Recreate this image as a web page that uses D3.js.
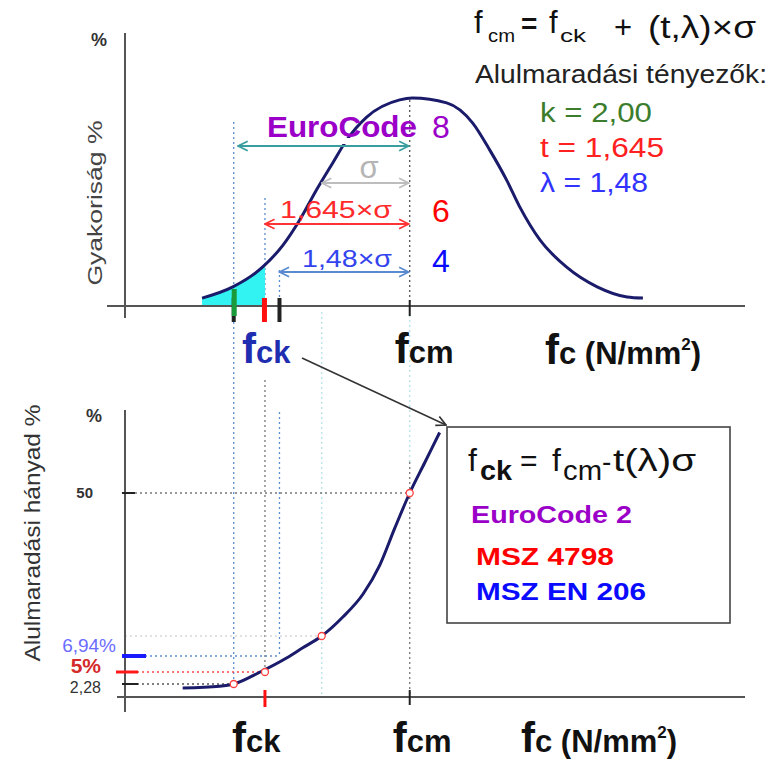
<!DOCTYPE html>
<html>
<head>
<meta charset="utf-8">
<script src="https://cdn.jsdelivr.net/npm/d3@7"></script>
<style>
  body { margin: 0; background: #fff; }
  text { font-family: "Liberation Sans", Arial, sans-serif; }
</style>
</head>
<body>
<svg id="chart" width="777" height="779"></svg>
<script>
// --- data (x in sigma units from fcm) ---
const freqU   = [-2.36, -2.01, -1.67, -1.44, -1.25, -1.06, -0.875, -0.716, -0.489, -0.114, 0.03, 0.42, 0.716, 0.91, 1.10, 1.25, 1.48, 1.78, 2.13, 2.47, 2.65];
const freqPct = [2.9, 7.0, 14.3, 22.3, 31.5, 42.5, 52.4, 60.8, 69.2, 75.5, 76.2, 74.4, 67.0, 57.1, 46.2, 36.3, 24.2, 14.3, 7.0, 3.3, 2.9];

const cumU   = [-2.58, -2.16, -2.0, -1.70, -1.40, -1.22, -1.0, -0.76, -0.53, -0.34, -0.17, 0, 0.17, 0.34];
const cumPct = [1.6, 1.9, 2.28, 5.0, 6.7, 10.5, 15.87, 20.4, 25.9, 32.8, 41.6, 50, 57.2, 64.4];

const markerU   = [-2, -1.645, -1, 0];
const markerPct = [2.28, 5, 15.87, 50];

const factorNames  = ["k", "t", "λ"];
const factorValues = [2.00, 1.645, 1.48];
const factorText   = ["2,00", "1,645", "1,48"];
const factorColors = ["#3b7d2c", "#ff2020", "#3333ff"];

const cumTickValues = [50, 6.94, 5, 2.28];
const cumTickLabels = ["50", "6,94%", "5%", "2,28"];

const standards      = ["EuroCode 2", "MSZ 4798", "MSZ EN 206"];
const standardColors = ["#9b00c8", "#ff0000", "#0a0aff"];
const sideNumbers    = ["8", "6", "4"];

const svg = d3.select("#chart");
svg.append("rect").attr("width", 777).attr("height", 779).attr("fill", "#fff");

const x = d3.scaleLinear().domain([-3.44, 3.81]).range([107, 745]);
const yTop = d3.scaleLinear().domain([0, 100]).range([306, 33]);
// the lower panel is not drawn to scale in the original, so the scale is piecewise
const yBot = d3.scaleLinear().domain([0, 2.28, 5, 6.94, 15.87, 50, 70]).range([697, 684, 672, 656, 636, 493, 409]);

const navy = "#1b1b6b";

// arrow markers
const defs = svg.append("defs");
function marker(id, color) {
  defs.append("marker").attr("id", id).attr("viewBox", "0 0 10 10").attr("refX", 9).attr("refY", 5)
    .attr("markerWidth", 12).attr("markerHeight", 12).attr("markerUnits", "userSpaceOnUse")
    .attr("orient", "auto-start-reverse")
    .append("path").attr("d", "M1,1 L9,5 L1,9").attr("fill", "none").attr("stroke", color).attr("stroke-width", 1.4);
}
marker("a-teal", "#3a9e9e");
marker("a-gray", "#bdbdbd");
marker("a-red", "#ff3333");
marker("a-blue", "#5a8ad0");
marker("a-black", "#333");

defs.append("clipPath").attr("id", "tailClip").append("rect")
  .attr("x", x(-2.6)).attr("y", 0).attr("width", x(-factorValues[1]) - x(-2.6)).attr("height", 779);

// --- guide lines ---
const guides = svg.append("g").attr("fill", "none").attr("stroke-width", 1.3).attr("stroke-dasharray", "2,3");
function vline(u, y1, y2, color) {
  guides.append("line").attr("x1", x(u)).attr("x2", x(u)).attr("y1", y1).attr("y2", y2).attr("stroke", color);
}
function hline(x1, u, v, color) {
  guides.append("line").attr("x1", x1).attr("x2", x(u)).attr("y1", yBot(v)).attr("y2", yBot(v)).attr("stroke", color);
}
vline(-factorValues[0], 122, yBot(2.28), "#5b8fd0");
vline(-factorValues[1], 198, 306, "#5b8fd0");
vline(-factorValues[1], 380, yBot(5), "#777");
vline(-factorValues[2], 270, 302, "#5b8fd0");
vline(-factorValues[2], 412, yBot(6.94), "#5b8fd0");
vline(-1, 312, 697, "#b5e3ea");
vline(0, 100, 306, "#555");
vline(0, 310, 462, "#b5e3ea");
vline(0, 462, 697, "#777");

hline(135, 0, 50, "#777");
hline(125, -1, 15.87, "#d8d8d8");
hline(125, -factorValues[2], 6.94, "#5b8fd0");
hline(137, -factorValues[1], 5, "#ff4444");
hline(137, -factorValues[0], 2.28, "#555");

// --- upper panel: frequency curve ---
const freq = freqU.map((u, i) => ({ u: u, v: freqPct[i] }));
svg.append("path").datum(freq).attr("clip-path", "url(#tailClip)")
  .attr("fill", "#33f2f2")
  .attr("d", d3.area().x(d => x(d.u)).y0(yTop(0)).y1(d => yTop(d.v)).curve(d3.curveMonotoneX));
svg.append("path").datum(freq).attr("fill", "none").attr("stroke", navy).attr("stroke-width", 3)
  .attr("d", d3.line().x(d => x(d.u)).y(d => yTop(d.v)).curve(d3.curveMonotoneX));

// axes (upper)
const axes = svg.append("g").attr("stroke", "#555").attr("stroke-width", 2);
axes.append("line").attr("x1", 125).attr("x2", 125).attr("y1", 33).attr("y2", 318);
axes.append("line").attr("x1", 107).attr("x2", 745).attr("y1", yTop(0)).attr("y2", yTop(0));
// axes (lower)
axes.append("line").attr("x1", 125).attr("x2", 125).attr("y1", 410).attr("y2", 712);
axes.append("line").attr("x1", 117).attr("x2", 745).attr("y1", yBot(0)).attr("y2", yBot(0));

// marks on the upper x axis
svg.append("rect").attr("x", x(-factorValues[0]) - 2).attr("y", 298).attr("width", 4).attr("height", 24).attr("fill", "#222");
svg.append("rect").attr("x", x(-factorValues[0]) - 2).attr("y", 289).attr("width", 5).attr("height", 27).attr("fill", "#1a9a3a");
svg.append("rect").attr("x", x(-factorValues[1]) - 3).attr("y", 298).attr("width", 5).attr("height", 24).attr("fill", "#ff1010");
svg.append("rect").attr("x", x(-factorValues[2]) - 2).attr("y", 298).attr("width", 4).attr("height", 24).attr("fill", "#222");
svg.append("line").attr("x1", x(0)).attr("x2", x(0)).attr("y1", 300).attr("y2", 316).attr("stroke", "#222").attr("stroke-width", 2);
// marks on the lower x axis
svg.append("line").attr("x1", x(0)).attr("x2", x(0)).attr("y1", 690).attr("y2", 705).attr("stroke", "#222").attr("stroke-width", 2);
svg.append("line").attr("x1", x(-factorValues[1])).attr("x2", x(-factorValues[1])).attr("y1", 690).attr("y2", 707).attr("stroke", "#ff1010").attr("stroke-width", 3);

// --- lower panel: cumulative curve ---
const cum = cumU.map((u, i) => ({ u: u, v: cumPct[i] }));
svg.append("path").datum(cum).attr("fill", "none").attr("stroke", navy).attr("stroke-width", 3)
  .attr("d", d3.line().x(d => x(d.u)).y(d => yBot(d.v)).curve(d3.curveMonotoneX));
svg.selectAll("circle.mk").data(markerU).enter().append("circle").attr("class", "mk")
  .attr("cx", d => x(d)).attr("cy", (d, i) => yBot(markerPct[i])).attr("r", 3.5)
  .attr("fill", "#fff").attr("stroke", "#ff4040").attr("stroke-width", 1.3);

// lower y ticks
const tickStyle = [
  { x1: 122, x2: 135, w: 2, c: "#222", lx: 93, dy: 5, size: 15, weight: "bold", fill: "#333" },
  { x1: 122, x2: 146, w: 4, c: "#1a1aff", lx: 116, dy: -4, size: 19, weight: "normal", fill: "#6b6bff" },
  { x1: 116, x2: 138, w: 3, c: "#ff1a1a", lx: 101, dy: 1, size: 21, weight: "bold", fill: "#d42a2a" },
  { x1: 122, x2: 138, w: 2, c: "#222", lx: 101, dy: 9, size: 16, weight: "normal", fill: "#333" }
];
cumTickValues.forEach((v, i) => {
  const s = tickStyle[i];
  svg.append("line").attr("x1", s.x1).attr("x2", s.x2).attr("y1", yBot(v)).attr("y2", yBot(v))
    .attr("stroke", s.c).attr("stroke-width", s.w);
  svg.append("text").attr("x", s.lx).attr("y", yBot(v) + s.dy).attr("text-anchor", "end")
    .attr("font-size", s.size).attr("font-weight", s.weight).attr("fill", s.fill).text(cumTickLabels[i]);
});

// --- arrows in the upper panel ---
function arrow(u1, y, id, color) {
  svg.append("line").attr("x1", x(u1)).attr("x2", x(0) - 1).attr("y1", y).attr("y2", y)
    .attr("stroke", color).attr("stroke-width", 2)
    .attr("marker-start", `url(#${id})`).attr("marker-end", `url(#${id})`);
}
arrow(-factorValues[0] + 0.05, 146, "a-teal", "#3a9e9e");
arrow(-1, 183, "a-gray", "#bdbdbd");
arrow(-factorValues[1], 224, "a-red", "#ff3333");
arrow(-factorValues[2], 272, "a-blue", "#5a8ad0");

svg.append("text").attr("x", 369).attr("y", 178).attr("text-anchor", "middle").attr("font-size", 31).attr("fill", "#b5b5b5").text("σ");
svg.append("text").attr("x", 280).attr("y", 218).attr("font-size", 24).attr("fill", "#ff2a2a")
  .attr("textLength", 112).attr("lengthAdjust", "spacingAndGlyphs").text("1,645×σ");
svg.append("text").attr("x", 302).attr("y", 267).attr("font-size", 24).attr("fill", "#3344ee")
  .attr("textLength", 90).attr("lengthAdjust", "spacingAndGlyphs").text("1,48×σ");

svg.append("rect").attr("x", 276).attr("y", 138).attr("width", 78).attr("height", 6).attr("fill", "#fff");
svg.append("text").attr("x", 267).attr("y", 137).attr("font-size", 29).attr("font-weight", "bold").attr("fill", standardColors[0])
  .attr("textLength", 150).attr("lengthAdjust", "spacingAndGlyphs").text(standards[0].split(" ")[0]);
const numY = [138, 222, 272];
const numColors = [standardColors[0], "#ff0000", "#0a0aff"];
sideNumbers.forEach((n, i) => {
  svg.append("text").attr("x", 432).attr("y", numY[i]).attr("font-size", 32).attr("fill", numColors[i]).text(n);
});

// --- axis titles ---
svg.append("text").attr("x", 107).attr("y", 46).attr("text-anchor", "end").attr("font-size", 18).attr("font-weight", "bold").attr("fill", "#333").text("%");
svg.append("text").attr("transform", "translate(102,203) rotate(-90)").attr("text-anchor", "middle")
  .attr("font-size", 21).attr("fill", "#444").attr("textLength", 165).attr("lengthAdjust", "spacingAndGlyphs").text("Gyakoriság %");
svg.append("text").attr("x", 102).attr("y", 422).attr("text-anchor", "end").attr("font-size", 18).attr("font-weight", "bold").attr("fill", "#333").text("%");
svg.append("text").attr("transform", "translate(40,533) rotate(-90)").attr("text-anchor", "middle")
  .attr("font-size", 22).attr("fill", "#333").attr("textLength", 257).attr("lengthAdjust", "spacingAndGlyphs").text("Alulmaradási hányad %");

// f-labels under the axes
function fLabel(px, py, rest, color) {
  const t = svg.append("text").attr("x", px).attr("y", py).attr("fill", color).attr("font-weight", "bold");
  t.append("tspan").attr("font-size", 42).text("f");
  t.append("tspan").attr("font-size", 31).text(rest);
  return t;
}
function fcUnit(px, py) {
  const t = fLabel(px, py, "c", "#111");
  t.append("tspan").attr("font-size", 31).text(" (N/mm");
  t.append("tspan").attr("font-size", 17).attr("dy", -14).text("2");
  t.append("tspan").attr("font-size", 31).attr("dy", 14).text(")");
}
fLabel(x(-factorValues[1]) - 23, 363, "ck", "#1f2db0");
fLabel(x(0) - 15, 363, "cm", "#111");
fcUnit(545, 364);
fLabel(x(-factorValues[1]) - 33, 752, "ck", "#111");
fLabel(x(0) - 17, 752, "cm", "#111");
fcUnit(521, 752);

// --- top right formula and factors ---
function txt(px, py, s, size, opts) {
  const t = svg.append("text").attr("x", px).attr("y", py).attr("font-size", size).attr("fill", (opts && opts.fill) || "#111").text(s);
  if (opts && opts.bold) t.attr("font-weight", "bold");
  if (opts && opts.len) t.attr("textLength", opts.len).attr("lengthAdjust", "spacingAndGlyphs");
  return t;
}
txt(474, 33, "f", 31);
txt(488, 42, "cm", 19, { len: 27 });
txt(521, 33, "=", 28, { bold: true });
txt(549, 33, "f", 31);
txt(560, 42, "ck", 19, { len: 26 });
txt(614, 38, "+", 31);
txt(648, 38, "(t,λ)×σ", 32, { len: 108 });
txt(475, 83, "Alulmaradási tényezők:", 25, { fill: "#222", len: 292 });
const factorY = [122, 157, 192];
factorNames.forEach((n, i) => {
  txt(540, factorY[i], n + (n === "λ" ? " = " : "  = ") + factorText[i], 27, { fill: factorColors[i], len: i === 0 ? 112 : (i === 1 ? 124 : 108) });
});

// --- connector arrow and info box ---
svg.append("line").attr("x1", 302).attr("y1", 358).attr("x2", 446).attr("y2", 425)
  .attr("stroke", "#333").attr("stroke-width", 1.5).attr("marker-end", "url(#a-black)");
svg.append("rect").attr("x", 447).attr("y", 427).attr("width", 283).attr("height", 196)
  .attr("fill", "#fff").attr("stroke", "#444").attr("stroke-width", 1.6);

txt(468, 471, "f", 32);
txt(480, 480, "ck", 28, { bold: true, len: 32 });
txt(520, 471, "=", 30);
txt(552, 471, "f", 32);
txt(563, 480, "cm", 27, { len: 39 });
txt(602, 471, "-", 28);
txt(613, 471, "t(λ)σ", 32, { len: 83 });

const stdY = [523, 565, 600];
const stdX = [471, 476, 476];
const stdLen = [161, 138, 170];
standards.forEach((s, i) => {
  txt(stdX[i], stdY[i], s, 24, { bold: true, fill: standardColors[i], len: stdLen[i] });
});
</script>
</body>
</html>
